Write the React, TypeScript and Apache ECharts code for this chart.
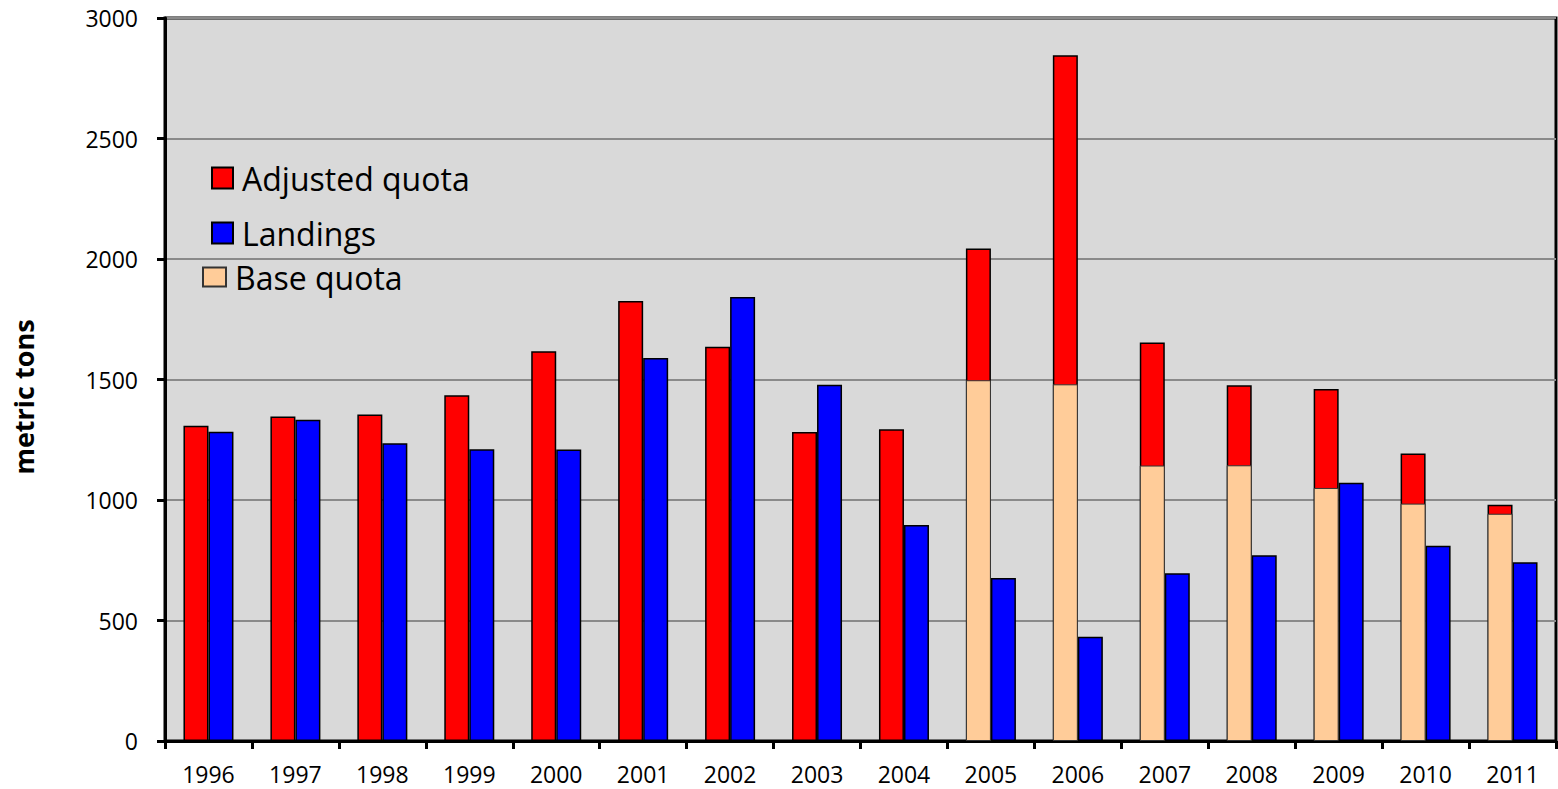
import React, { useEffect, useRef } from "react";
import * as echarts from "echarts";

const years = ["1996", "1997", "1998", "1999", "2000", "2001", "2002", "2003", "2004", "2005", "2006", "2007", "2008", "2009", "2010", "2011"];
const adjustedQuota = [1308, 1346, 1355, 1435, 1617, 1826, 1636, 1282, 1294, 2044, 2845, 1654, 1476, 1461, 1193, 980];
const landings = [1283, 1333, 1235, 1211, 1210, 1589, 1842, 1478, 896, 676, 433, 696, 771, 1072, 810, 742];
const baseQuota = [null, null, null, null, null, null, null, null, null, 1497, 1480, 1143, 1144, 1050, 985, 943];
const yTicks = { min: 0, max: 3000, interval: 500 };

const FONT = "'Open Sans', sans-serif";

export default function App() {
  const ref = useRef<HTMLDivElement>(null);
  useEffect(() => {
    if (!ref.current) return;
    const chart = echarts.init(ref.current, null, { renderer: "svg" });
    const legendText = { fontFamily: FONT, fontSize: 32, color: "#000", padding: [0, 0, 0, 4] };
    chart.setOption({
      animation: false,
      backgroundColor: "#fff",
      grid: {
        left: 165,
        top: 18,
        right: 2,
        bottom: 48,
        show: true,
        backgroundColor: "#D9D9D9",
        borderColor: "#000",
        borderWidth: 3,
      },
      legend: [
        {
          data: ["Adjusted quota"], left: 211, top: 162, padding: 0, itemWidth: 21, itemHeight: 21,
          textStyle: legendText, icon: "rect", selectedMode: false,
        },
        {
          data: ["Landings"], left: 211, top: 217, padding: 0, itemWidth: 21, itemHeight: 21,
          textStyle: legendText, icon: "rect", selectedMode: false,
        },
        {
          data: ["Base quota"], left: 202, top: 261, padding: 0, itemWidth: 23, itemHeight: 19,
          textStyle: legendText, icon: "rect", selectedMode: false,
        },
      ],
      xAxis: [
        {
          type: "category",
          data: years,
          axisLine: { lineStyle: { color: "#000", width: 3 } },
          axisTick: { show: true, length: 8, lineStyle: { color: "#000", width: 3 } },
          axisLabel: { fontFamily: FONT, fontSize: 23, color: "#000", margin: 21 },
        },
        {
          type: "category",
          data: years,
          show: false,
        },
      ],
      yAxis: {
        type: "value",
        min: yTicks.min,
        max: yTicks.max,
        interval: yTicks.interval,
        axisLine: { show: true, lineStyle: { color: "#000", width: 3 } },
        axisTick: { show: true, length: 8, lineStyle: { color: "#000", width: 3 } },
        axisLabel: {
          fontFamily: FONT, fontSize: 23, color: "#000", margin: 27,
          formatter: (v: number) => String(v),
        },
        splitLine: { show: true, lineStyle: { color: "#8a8a8a", width: 2 } },
      },
      graphic: [
        {
          type: "text",
          x: 23,
          y: 397,
          rotation: Math.PI / 2,
          style: {
            text: "metric tons",
            fontFamily: FONT,
            fontWeight: "bold",
            fontSize: 27,
            fill: "#000",
            textAlign: "center",
            textVerticalAlign: "middle",
          },
        },
      ],
      series: [
        {
          name: "Adjusted quota",
          type: "bar",
          xAxisIndex: 0,
          data: adjustedQuota,
          barWidth: 25,
          barGap: "0%",
          itemStyle: { color: "#FF0000", borderColor: "#000", borderWidth: 1.5 },
        },
        {
          name: "Landings",
          type: "bar",
          xAxisIndex: 0,
          data: landings,
          barWidth: 25,
          barGap: "0%",
          itemStyle: { color: "#0000FF", borderColor: "#000", borderWidth: 1.5 },
        },
        {
          name: "Base quota",
          type: "bar",
          xAxisIndex: 1,
          data: baseQuota,
          barWidth: 25,
          barGap: "0%",
          itemStyle: { color: "#FFCC99", borderColor: "#333", borderWidth: 1 },
        },
        {
          name: "_spacer",
          type: "bar",
          xAxisIndex: 1,
          data: years.map(() => null),
          barWidth: 25,
          barGap: "0%",
          itemStyle: { color: "transparent" },
        },
      ],
    });
    return () => chart.dispose();
  }, []);
  return <div ref={ref} style={{ position: "fixed", left: 0, top: 0, width: 1558, height: 789 }} />;
}
